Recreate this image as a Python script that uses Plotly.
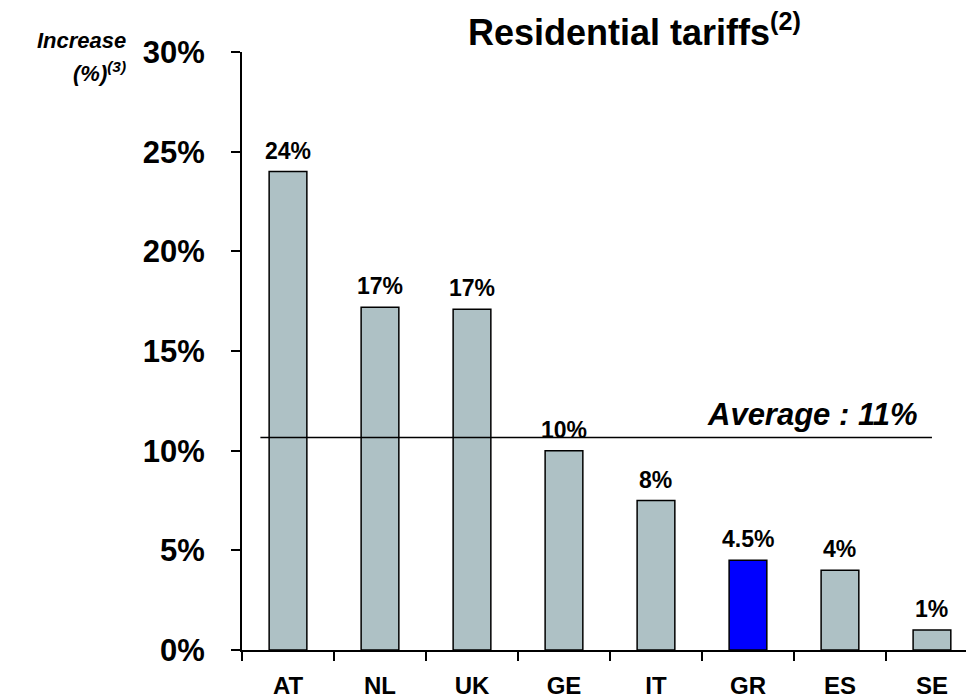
import plotly.graph_objects as go

# Tariff increase by country
countries = ["AT", "NL", "UK", "GE", "IT", "GR", "ES", "SE"]
increase_pct = [24.0, 17.2, 17.1, 10.0, 7.5, 4.5, 4.0, 1.0]
label_decimals = [0, 0, 0, 0, 0, 1, 0, 0]
highlight = "GR"
y_ticks = [0, 5, 10, 15, 20, 25, 30]
y_title_lines = ["Increase", "(%)<sup>(3)</sup>"]

GREY = "#AEC1C5"
BLUE = "#0000FF"
FONT = "Liberation Sans, Arial, sans-serif"

bar_colors = [BLUE if c == highlight else GREY for c in countries]
bar_text = [f"{v:.{d}f}%" for v, d in zip(increase_pct, label_decimals)]
average = sum(increase_pct) / len(increase_pct)

fig = go.Figure()
fig.add_trace(go.Bar(
    x=countries,
    y=increase_pct,
    width=0.41,
    marker=dict(color=bar_colors, line=dict(color="black", width=1.5)),
    hoverinfo="skip",
))

# Value labels above each bar
for c, v, t in zip(countries, increase_pct, bar_text):
    fig.add_annotation(xref="x", yref="y", x=c, y=v, text=f"<b>{t}</b>",
                       showarrow=False, xanchor="center", yanchor="bottom", yshift=6,
                       font=dict(family=FONT, size=23, color="black"))

# Average line across the bars
fig.add_shape(type="line", xref="x", yref="y",
              x0=-0.3, x1=7.0, y0=average, y1=average,
              line=dict(color="black", width=1.5))
fig.add_annotation(xref="x", yref="y", x=7.0, y=average,
                   text=f"<b><i>Average : {average:.0f}%</i></b>",
                   showarrow=False, xanchor="right", yanchor="bottom",
                   xshift=-12, yshift=3,
                   font=dict(family=FONT, size=31, color="black"))

fig.add_annotation(xref="paper", yref="paper", x=0.31, y=1.0, yshift=-3,
                   text="<b>Residential tariffs<sup>(2)</sup></b>",
                   showarrow=False, xanchor="left", yanchor="bottom",
                   font=dict(family=FONT, size=36, color="black"))

# Y-axis title, two stacked lines left of the tick labels
for i, line in enumerate(y_title_lines):
    fig.add_annotation(xref="paper", yref="paper", x=-0.157, y=1.0,
                       yshift=12 - 32 * i,
                       text=f"<b><i>{line}</i></b>",
                       showarrow=False, xanchor="right", yanchor="middle", align="right",
                       font=dict(family=FONT, size=22, color="black"))

fig.update_layout(
    width=966, height=698,
    margin=dict(l=242, r=0, t=52, b=48),
    paper_bgcolor="white", plot_bgcolor="white",
    showlegend=False,
    xaxis=dict(
        type="category",
        range=[-0.5, 7.37],
        showline=True, linecolor="black", linewidth=2,
        ticks="outside", tickson="boundaries", ticklen=9, tickwidth=1.5, tickcolor="black",
        ticklabelstandoff=13,
        tickfont=dict(family=FONT, size=24, color="black", weight="bold"),
        showgrid=False, zeroline=False,
    ),
    yaxis=dict(
        range=[0, 30],
        tickvals=y_ticks,
        ticktext=[f"{t}%" for t in y_ticks],
        showline=True, linecolor="black", linewidth=2,
        ticks="outside", ticklen=9, tickwidth=1.5, tickcolor="black",
        ticklabelstandoff=20,
        tickfont=dict(family=FONT, size=31, color="black", weight="bold"),
        showgrid=False, zeroline=False,
    ),
)

fig.write_html("out.html")
